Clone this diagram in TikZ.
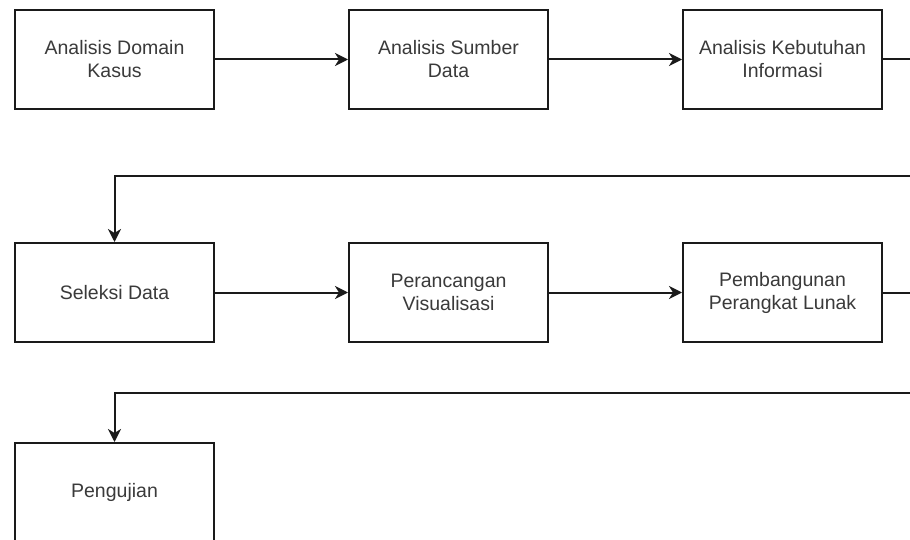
\documentclass[tikz,border=0pt]{standalone}
\usepackage{fontspec}
\setmainfont{Liberation Sans}
\usetikzlibrary{arrows.meta}
\definecolor{txt}{HTML}{3A3A3A}
\definecolor{ln}{HTML}{1A1A1A}
\tikzset{
  procbox/.style={draw=ln, line width=2pt, minimum width=199pt, minimum height=99pt,
    inner sep=0pt, align=center, text=txt, font=\fontsize{19.5}{23}\selectfont},
  flow/.style={draw=ln, line width=2pt, -{Stealth[length=13pt,width=13pt,inset=4pt]}},
  plain/.style={draw=ln, line width=2pt}
}
\begin{document}
\begin{tikzpicture}[x=1pt,y=-1pt]
\useasboundingbox (0,0) rectangle (910,540);
\clip (0,0) rectangle (910,540);
\fill[white] (0,0) rectangle (910,540);
\node[procbox] (a1) at (114.5,59.5) {Analisis Domain\\Kasus};
\node[procbox] (a2) at (448.5,59.5) {Analisis Sumber\\Data};
\node[procbox] (a3) at (782.5,59.5) {Analisis Kebutuhan\\Informasi};
\node[procbox] (b1) at (114.5,292.5) {Seleksi Data};
\node[procbox] (b2) at (448.5,292.5) {Perancangan\\Visualisasi};
\node[procbox] (b3) at (782.5,292.5) {Pembangunan\\Perangkat Lunak};
\node[procbox] (c1) at (114.5,492.5) {Pengujian};
\coordinate (e1) at (912,59.5);
\coordinate (r1) at (912,176.5);
\coordinate (e2) at (912,292.5);
\coordinate (r2) at (912,393);
\draw[flow] (a1) -- (a2);
\draw[flow] (a2) -- (a3);
\draw[plain] (a3.east) -- (e1);
\draw[flow] (r1) -| (b1.north);
\draw[flow] (b1) -- (b2);
\draw[flow] (b2) -- (b3);
\draw[plain] (b3.east) -- (e2);
\draw[flow] (r2) -| (c1.north);
\end{tikzpicture}
\end{document}
